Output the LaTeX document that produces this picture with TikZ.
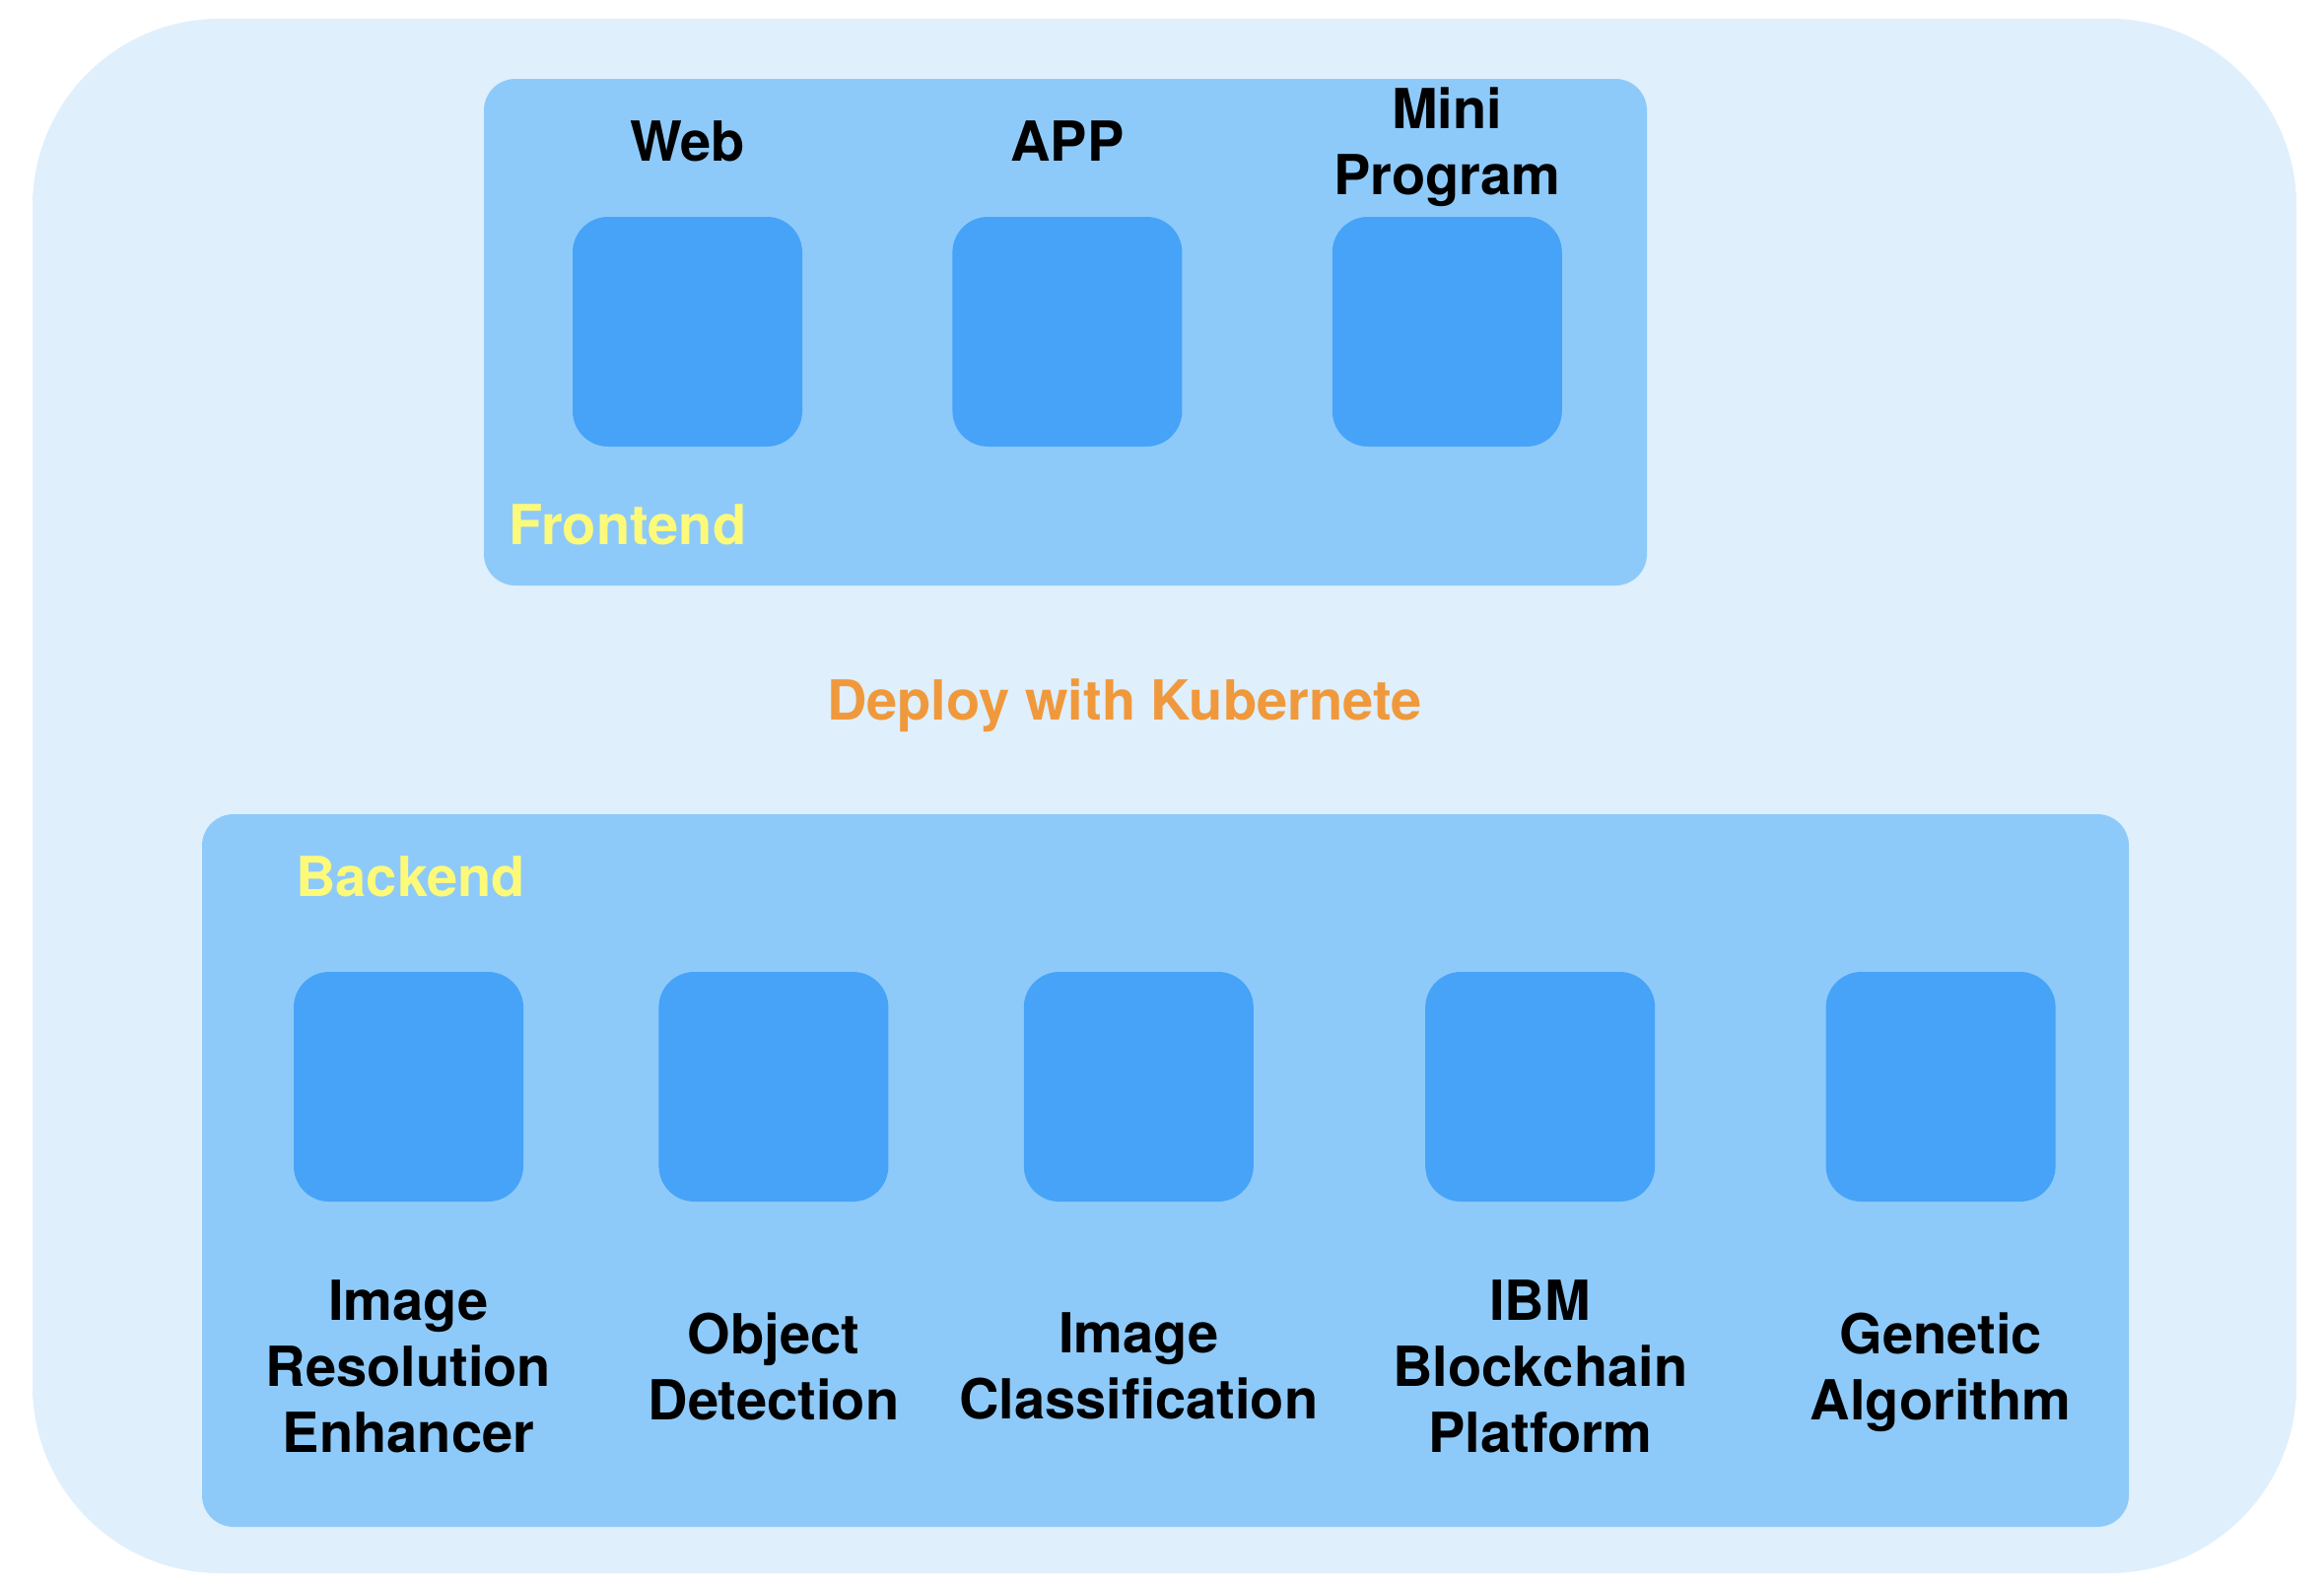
\documentclass[tikz,border=0pt]{standalone}
\usepackage{fontspec}
\setmainfont{TeX Gyre Heros}
\usetikzlibrary{positioning}

\definecolor{skyback}{RGB}{223,239,252}
\definecolor{panelblue}{RGB}{142,202,249}
\definecolor{tileblue}{RGB}{70,163,248}
\definecolor{tagyellow}{RGB}{253,250,122}
\definecolor{deployorange}{RGB}{240,153,60}

\begin{document}
\begin{tikzpicture}[x=1pt, y=-1pt,
      every node/.style={font=\fontsize{56}{67}\selectfont\bfseries},
      group/.style={rectangle, fill=panelblue, rounded corners=32pt, inner sep=0pt},
      tile/.style={rectangle, fill=tileblue, rounded corners=36pt, minimum width=233pt, minimum height=233pt, inner sep=0pt},
      lbl/.style={align=center, inner sep=0pt},
      tag/.style={text=tagyellow, inner sep=0pt, anchor=base west}
    ]
    \useasboundingbox (0,0) rectangle (2358,1606);

    % Cluster
    \node[rectangle, fill=skyback, rounded corners=190pt, inner sep=0pt, minimum width=2297pt, minimum height=1577pt] (cluster) at (1181.5,807.5) {};

    % Frontend
    \node[group, minimum width=1180pt, minimum height=514pt] (front) at (1081,337) {};
    \node[tile] (web) at (697.5,336.5) {};
    \node[tile, right=152pt of web] (app) {};
    \node[tile, right=152pt of app] (mini) {};
    \node[lbl, above=56pt of web] (webl) {Web};
    \node[lbl, above=56pt of app] (appl) {APP};
    \node[lbl, above=10pt of mini] (minil) {Mini\\Program};
    \node[tag] (frontl) at (516,552) {Frontend};

    % Deployment
    \node[text=deployorange, inner sep=0pt, anchor=base] (deploy) at (1141,730) {Deploy with Kubernete};

    % Backend
    \node[group, minimum width=1955pt, minimum height=723pt] (back) at (1182.5,1187.5) {};
    \node[tag] (backl) at (300,909) {Backend};
    \node[tile] (resol) at (414.5,1102.5) {};
    \node[tile, right=137pt of resol] (detect) {};
    \node[tile, right=137pt of detect] (classif) {};
    \node[tile, right=174pt of classif] (chain) {};
    \node[tile, right=173pt of chain] (genetic) {};
    \node[lbl, below=79pt of resol] (resoll) {Image\\Resolution\\Enhancer};
    \node[lbl, below=112pt of detect] (detectl) {Object\\Detection};
    \node[lbl, below=112pt of classif] (classifl) {Image\\Classification};
    \node[lbl, below=79pt of chain] (chainl) {IBM\\Blockchain\\Platform};
    \node[lbl, below=112pt of genetic] (geneticl) {Genetic\\Algorithm};

\end{tikzpicture}
\end{document}
